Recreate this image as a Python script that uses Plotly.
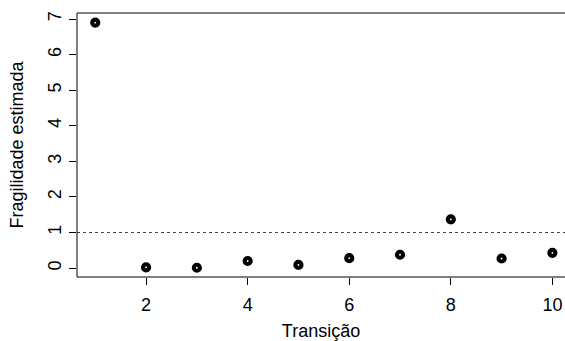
import plotly.graph_objects as go

transicao = [1, 2, 3, 4, 5, 6, 7, 8, 9, 10]
fragilidade = [6.90, 0.02, 0.01, 0.20, 0.09, 0.28, 0.375, 1.37, 0.27, 0.43]
x_ticks = [2, 4, 6, 8, 10]
y_ticks = [0, 1, 2, 3, 4, 5, 6, 7]
ref_line = 1

fig = go.Figure()
fig.add_trace(go.Scatter(
    x=transicao, y=fragilidade, mode="markers",
    marker=dict(symbol="circle", color="white", size=6,
                line=dict(color="black", width=4.2)),
    showlegend=False, cliponaxis=False, hoverinfo="skip",
))

font = dict(family="Liberation Sans, Arial, sans-serif", size=18, color="black")

fig.update_layout(
    width=565, height=341,
    margin=dict(l=77, r=0, t=13, b=64),
    paper_bgcolor="white", plot_bgcolor="white",
    font=font,
    xaxis=dict(range=[0.64, 10.248], tickvals=x_ticks, ticks="outside",
               ticklen=7, tickcolor="black", tickwidth=1, showgrid=False,
               zeroline=False, showline=False, ticklabelstandoff=4,
               title=dict(text="Transição", font=dict(size=18), standoff=12)),
    yaxis=dict(range=[-0.25, 7.17], tickvals=y_ticks, ticks="outside",
               ticklen=7, tickcolor="black", tickwidth=1, showgrid=False,
               zeroline=False, showline=False, tickangle=-90,
               ticklabelstandoff=1,
               title=dict(text="Fragilidade estimada", font=dict(size=18), standoff=16)),
    shapes=[
        dict(type="rect", xref="paper", yref="paper", x0=0, x1=1.2, y0=0, y1=1,
             line=dict(color="black", width=1), layer="above"),
        dict(type="line", xref="paper", yref="y", x0=0, x1=1, y0=ref_line, y1=ref_line,
             line=dict(color="#444444", width=1, dash="3px,3px"), layer="below"),
    ],
)

fig.write_html(
    "out.html",
    config={"displayModeBar": False},
    post_script="document.body.style.margin='0';document.body.style.overflow='hidden';",
)
